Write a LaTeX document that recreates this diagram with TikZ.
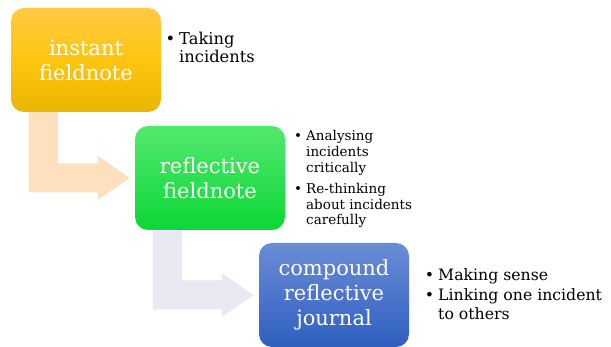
\documentclass[tikz,border=0pt]{standalone}
\usepackage{fontspec}
\setmainfont{DejaVu Serif}
\usetikzlibrary{calc}

\definecolor{instTop}{HTML}{FFCA45}
\definecolor{instMid}{HTML}{FFC510}
\definecolor{instBot}{HTML}{E9B600}
\definecolor{reflTop}{HTML}{52E96E}
\definecolor{reflBot}{HTML}{0CD636}
\definecolor{compTop}{HTML}{6B8CD6}
\definecolor{compBot}{HTML}{2F5FC0}
\definecolor{peach}{HTML}{FEDFBE}
\definecolor{lavender}{HTML}{E8E9F3}

% bent arrow from the bottom of one box to the left side of the next
\newcommand{\bentarrow}[3]{%
  \fill[#3] ($(#1.south west)+(18,0)$) |- ($(#2.west)+(-37,14.5)$)
    -- ($(#2.west)+(-37,22)$) -- ($(#2.west)+(-5,0)$)
    -- ($(#2.west)+(-37,-22)$) -- ($(#2.west)+(-37,-14.5)$)
    -| ($(#1.south west)+(47,0)$) -- cycle;}

\begin{document}
\begin{tikzpicture}[x=1pt,y=-1pt]
\tikzset{stage/.style={rounded corners=13pt,minimum width=150pt,minimum height=104pt,
    align=center,text=white,font=\fontsize{21}{25}\selectfont,inner sep=0pt}}
\tikzset{notes/.style={anchor=base west,inner sep=0pt,align=left}}
\useasboundingbox (0,0) rectangle (611,347);

\node[stage,top color=instTop,bottom color=instBot,middle color=instMid] (inst) at (86,60) {instant\\fieldnote};
\node[stage,top color=reflTop,bottom color=reflBot] (refl) at (210,178) {reflective\\fieldnote};
\node[stage,top color=compTop,bottom color=compBot] (comp) at (334,295) {compound\\reflective\\journal};

\bentarrow{inst}{refl}{peach}
\bentarrow{refl}{comp}{lavender}

\node[notes] (instnote) at (179,45) {\fontsize{16.3}{18}\selectfont
  \begin{tabular}[t]{@{}l@{}}
  \llap{\textbullet\hspace{4pt}}Taking\\
  incidents
  \end{tabular}};
\node[notes] (reflnote) at (306,141) {\fontsize{13.5}{15.8}\selectfont
  \begin{tabular}[t]{@{}l@{}}
  \llap{\textbullet\hspace{4pt}}Analysing\\
  incidents\\
  critically\\[5pt]
  \llap{\textbullet\hspace{4pt}}Re-thinking\\
  about incidents\\
  carefully
  \end{tabular}};
\node[notes] (compnote) at (438,281) {\fontsize{15.7}{19.5}\selectfont
  \begin{tabular}[t]{@{}l@{}}
  \llap{\textbullet\hspace{4pt}}Making sense\\
  \llap{\textbullet\hspace{4pt}}Linking one incident\\
  to others
  \end{tabular}};
\end{tikzpicture}
\end{document}
